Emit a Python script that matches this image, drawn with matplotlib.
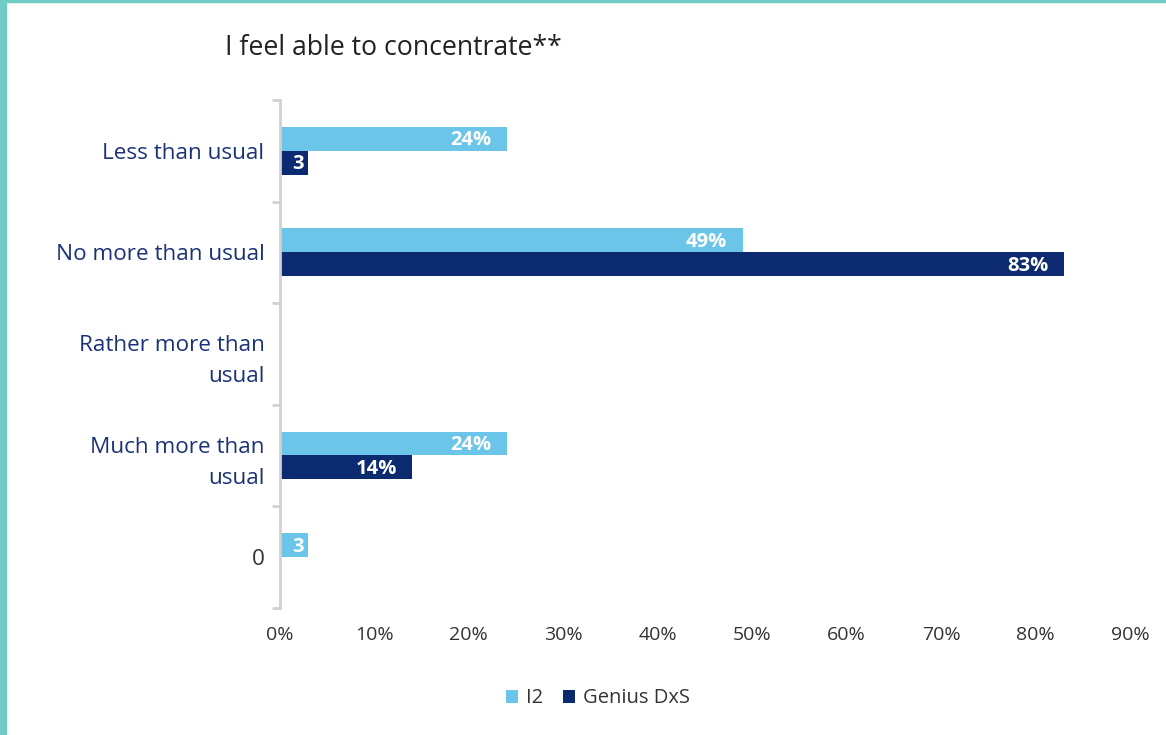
import matplotlib.pyplot as plt
from matplotlib.patches import Rectangle
import numpy as np

plt.rcParams['font.family'] = ['Open Sans', 'DejaVu Sans']

categories = ['Less than usual', 'No more than usual', 'Rather more than\nusual',
              'Much more than\nusual', '0']
i2 = [0.24, 0.49, 0, 0.24, 0.03]
genius = [0.03, 0.83, 0, 0.14, 0]
i2_labels = ['24%', '49%', '', '24%', '3']
genius_labels = ['3', '83%', '', '14%', '']
xticks = [0, 0.1, 0.2, 0.3, 0.4, 0.5, 0.6, 0.7, 0.8, 0.9]

light = '#6BC5E8'
navy = '#0B2A70'

fig = plt.figure(figsize=(11.66, 7.35), dpi=100)
ax = fig.add_axes([0.240, 0.173, 0.729, 0.691])

y = np.arange(len(categories))
h = 0.235
b1 = ax.barh(y - h / 2, i2, height=h, color=light, label='I2')
b2 = ax.barh(y + h / 2, genius, height=h, color=navy, label='Genius DxS')

for bars, labels in [(b1, i2_labels), (b2, genius_labels)]:
    for bar, lab in zip(bars, labels):
        if not lab:
            continue
        w = bar.get_width()
        yc = bar.get_y() + bar.get_height() / 2
        off = -3 if w < 0.05 else -11
        ax.annotate(lab, (w, yc), xytext=(off, -1), textcoords='offset points',
                    ha='right', va='center', color='white', fontsize=14.5,
                    fontweight='bold')

ax.set_ylim(len(categories) - 0.5, -0.5)
ax.set_xlim(0, 0.9)
ax.set_yticks(y)
ax.set_yticklabels(categories, fontsize=16.2, color='#1B3278', linespacing=1.6)
ax.get_yticklabels()[-1].set_color('#333333')
ax.set_yticks(np.arange(-0.5, len(categories)), minor=True)
ax.tick_params(axis='y', which='major', length=0, pad=11)
ax.tick_params(axis='y', which='minor', length=6, color='#D0D0D0', width=2)
ax.set_xticks(xticks)
ax.set_xticklabels([f'{int(round(t * 100))}%' for t in xticks], fontsize=14, color='#333333')
ax.tick_params(axis='x', length=0, pad=13)

for s in ['top', 'right', 'bottom']:
    ax.spines[s].set_visible(False)
ax.spines['left'].set_color('#D0D0D0')
ax.spines['left'].set_linewidth(2)

fig.text(0.193, 0.935, 'I feel able to concentrate**', fontsize=19.2, color='#222222',
         ha='left', va='center')

fig.legend(handles=[b1, b2], loc='center', bbox_to_anchor=(0.513, 0.05), ncol=2,
           frameon=False, fontsize=14.5, handlelength=0.6, handleheight=0.6,
           handletextpad=0.4, columnspacing=1.0, labelcolor='#333333')

# teal frame on left and top edges
fig.patches.append(Rectangle((0, 0), 0.005, 1, transform=fig.transFigure,
                             color='#6FCBC3', zorder=10))
fig.patches.append(Rectangle((0, 0.997), 1, 0.003, transform=fig.transFigure,
                             color='#6FCBC3', zorder=10))

fig.savefig('out.png', dpi=100)
